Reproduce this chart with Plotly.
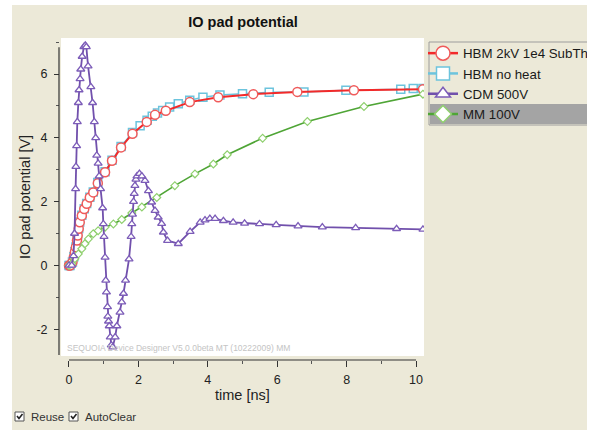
import plotly.graph_objects as go

# ---------------- data ----------------
hbm_t = [0.0, 0.03, 0.1, 0.14, 0.17, 0.2, 0.23, 0.25, 0.28, 0.31, 0.37, 0.44, 0.51, 0.6, 0.7,
         0.83, 1.04, 1.24, 1.5, 1.83, 2.24, 2.48, 2.79, 3.48, 4.3, 5.31, 6.58, 8.21, 10.2]
hbm_v = [0.0, 0.0, 0.1, 0.26, 0.42, 0.57, 0.78, 0.94, 1.15, 1.35, 1.56, 1.77, 1.93, 2.13, 2.29,
         2.58, 2.92, 3.28, 3.7, 4.13, 4.5, 4.72, 4.85, 5.12, 5.27, 5.37, 5.44, 5.49, 5.52]

noheat_t = [0.0, 0.03, 0.1, 0.14, 0.17, 0.2, 0.23, 0.25, 0.28, 0.31, 0.37, 0.44, 0.51, 0.6, 0.7,
            0.83, 1.04, 1.24, 1.5, 1.83, 2.05, 2.25, 2.4, 2.55, 2.7, 2.9, 3.15, 3.48, 3.86, 4.35,
            5.0, 5.77, 6.77, 7.98, 9.56, 9.92, 10.2]
noheat_v = [0.0, 0.0, 0.11, 0.27, 0.43, 0.58, 0.79, 0.95, 1.16, 1.36, 1.57, 1.78, 1.94, 2.14, 2.3,
            2.6, 2.94, 3.3, 3.73, 4.17, 4.38, 4.55, 4.68, 4.78, 4.86, 4.97, 5.07, 5.18, 5.27, 5.34,
            5.38, 5.43, 5.44, 5.49, 5.52, 5.55, 5.55]

cdm_t = [0.0, 0.08, 0.13, 0.16, 0.19, 0.2, 0.22, 0.24, 0.27, 0.29, 0.32, 0.34, 0.38, 0.43, 0.47,
         0.5, 0.55, 0.63, 0.68, 0.73, 0.77, 0.8, 0.84, 0.87, 0.91, 0.97, 0.99, 1.01, 1.04, 1.06,
         1.08, 1.11, 1.12, 1.14, 1.16, 1.19, 1.22, 1.26, 1.33, 1.38, 1.47, 1.52, 1.57, 1.63, 1.73,
         1.79, 1.81, 1.83, 1.86, 1.88, 1.9, 1.93, 1.96, 2.03, 2.1, 2.19, 2.29, 2.38, 2.48, 2.57,
         2.67, 2.72, 2.84, 3.15, 3.49, 3.78, 3.92, 4.06, 4.21, 4.45, 4.73, 5.06, 5.49, 5.97, 6.6,
         7.3, 8.26, 9.44, 10.2]
cdm_v = [0.0, 0.0, 0.3, 1.0, 2.4, 3.1, 3.75, 4.5, 5.1, 5.5, 5.85, 6.15, 6.55, 6.85, 6.9,
         6.85, 6.25, 5.6, 5.1, 4.5, 4.0, 3.45, 3.2, 2.8, 2.4, 1.8, 1.3, 0.9, 0.25, -0.47,
         -0.84, -1.3, -1.6, -1.75, -1.9, -2.25, -2.5, -2.56, -2.25, -1.9, -1.47, -1.15, -0.88, -0.47, 0.2,
         0.9, 1.3, 1.6, 2.0, 2.25, 2.5, 2.7, 2.8, 2.88, 2.8, 2.66, 2.34, 1.98, 1.72, 1.51,
         1.31, 1.04, 0.78, 0.68, 1.06, 1.35, 1.42, 1.47, 1.47, 1.4, 1.35, 1.32, 1.3, 1.27, 1.23,
         1.2, 1.18, 1.15, 1.13]

mm_t = [0.0, 0.08, 0.17, 0.27, 0.37, 0.46, 0.56, 0.7, 0.84, 1.04, 1.28, 1.52, 1.81, 2.1, 2.53,
        3.05, 3.63, 4.16, 4.56, 5.58, 6.87, 8.5, 10.2]
mm_v = [0.0, 0.05, 0.21, 0.36, 0.52, 0.68, 0.83, 0.99, 1.09, 1.2, 1.3, 1.44, 1.64, 1.83, 2.13,
        2.5, 2.87, 3.18, 3.47, 3.99, 4.51, 4.98, 5.37]

series_names = ["HBM 2kV 1e4 SubTh", "HBM no heat", "CDM 500V", "MM 100V"]
x_ticks = [0, 2, 4, 6, 8, 10]
y_ticks = [-2, 0, 2, 4, 6]

# ---------------- layout helpers ----------------
W, H = 587, 430
ML, MR, MT, MB = 59, 163, 38, 70
PW, PH = W - ML - MR, H - MT - MB


def px2x(px):
    return (px - ML) / PW


def py2y(py):
    return (H - MB - py) / PH


BEIGE = "#ECE9D8"
FONT = "Liberation Sans, Arial, sans-serif"

styles = [
    dict(line=dict(color="#F22A2A", width=2),
         marker=dict(symbol="circle", size=9, color="white", line=dict(color="#F05A5A", width=1.5))),
    dict(line=dict(color="#6CC4DD", width=1.5),
         marker=dict(symbol="square", size=8, color="white", line=dict(color="#6CC4DD", width=1.5))),
    dict(line=dict(color="#7150AC", width=1.8),
         marker=dict(symbol="triangle-up", size=7, color="white", line=dict(color="#7C5CB8", width=1.3))),
    dict(line=dict(color="#4FA536", width=1.6),
         marker=dict(symbol="diamond", size=6, color="white", line=dict(color="#8FD06E", width=1.2))),
]
legend_sizes = [14, 13, 13, 13]
series = [(hbm_t, hbm_v), (noheat_t, noheat_v), (cdm_t, cdm_v), (mm_t, mm_v)]
draw_order = [1, 0, 3, 2]  # cyan below red, green below purple

fig = go.Figure()

for i in draw_order:
    tx, vy = series[i]
    st = styles[i]
    fig.add_trace(go.Scatter(x=tx, y=vy, name=series_names[i], mode="lines+markers", showlegend=False,
                             line=st["line"], marker=st["marker"]))

# legend-only entries (bigger symbols, like the reference legend)
for name, st, sz in zip(series_names, styles, legend_sizes):
    mk = dict(st["marker"])
    mk["size"] = sz
    mk["color"] = "white"
    mk["line"] = dict(color=st["marker"]["line"]["color"], width=1.5)
    fig.add_trace(go.Scatter(x=[None], y=[None], name=name, mode="lines+markers",
                             line=dict(color=st["line"]["color"], width=2.5), marker=mk))

shapes = [
    dict(type="rect", xref="paper", yref="paper", x0=px2x(61), x1=1, y0=py2y(356), y1=1,
         fillcolor="white", line=dict(width=0), layer="below"),
    dict(type="line", xref="x", yref="paper", x0=0, x1=10, y0=0, y1=0,
         line=dict(color="#333333", width=1.2), layer="above"),
    dict(type="line", xref="paper", yref="y", x0=0, x1=0, y0=-2.81, y1=6.84,
         line=dict(color="#333333", width=1.2), layer="above"),
    dict(type="rect", xref="paper", yref="paper", x0=px2x(0), x1=px2x(12), y0=py2y(430), y1=py2y(0),
         fillcolor="white", line=dict(width=0), layer="above"),
    dict(type="rect", xref="paper", yref="paper", x0=px2x(0), x1=px2x(W), y0=py2y(5), y1=py2y(0),
         fillcolor="white", line=dict(width=0), layer="above"),
    dict(type="rect", xref="paper", yref="paper", x0=px2x(430), x1=px2x(W + 5), y0=py2y(124), y1=py2y(104),
         fillcolor="#A4A4A4", line=dict(width=0), layer="above"),
    dict(type="rect", xref="paper", yref="paper", x0=px2x(429), x1=px2x(W + 5), y0=py2y(125), y1=py2y(42),
         fillcolor="rgba(0,0,0,0)", line=dict(color="#9C9C9C", width=1), layer="above"),
    dict(type="rect", xref="paper", yref="paper", x0=px2x(15), x1=px2x(24), y0=py2y(421), y1=py2y(412),
         fillcolor="white", line=dict(color="#555555", width=1), layer="above"),
    dict(type="rect", xref="paper", yref="paper", x0=px2x(69), x1=px2x(78), y0=py2y(421), y1=py2y(412),
         fillcolor="white", line=dict(color="#555555", width=1), layer="above"),
]


def check_path(x0):
    pts = [(x0 + 2, 416), (x0 + 4, 418.5), (x0 + 7.5, 414)]
    return "M {} {} L {} {} L {} {}".format(
        px2x(pts[0][0]), py2y(pts[0][1]), px2x(pts[1][0]), py2y(pts[1][1]),
        px2x(pts[2][0]), py2y(pts[2][1]))


shapes.append(dict(type="path", xref="paper", yref="paper", path=check_path(15),
                   line=dict(color="#222222", width=1.6), layer="above"))
shapes.append(dict(type="path", xref="paper", yref="paper", path=check_path(69),
                   line=dict(color="#222222", width=1.6), layer="above"))

annotations = [
    dict(text="SEQUOIA Device Designer V5.0.0beta MT (10222009) MM", xref="paper", yref="paper",
         x=px2x(65), y=py2y(348), xanchor="left", yanchor="middle", showarrow=False,
         font=dict(family=FONT, size=8.5, color="#C4C4C4")),
    dict(text="Reuse", xref="paper", yref="paper", x=px2x(29), y=py2y(417), xanchor="left",
         yanchor="middle", showarrow=False, font=dict(family=FONT, size=11.5, color="#333333")),
    dict(text="AutoClear", xref="paper", yref="paper", x=px2x(83), y=py2y(417), xanchor="left",
         yanchor="middle", showarrow=False, font=dict(family=FONT, size=11.5, color="#333333")),
    dict(text="time [ns]", xref="paper", yref="paper", x=px2x(242), y=py2y(395), xanchor="center",
         yanchor="middle", showarrow=False, font=dict(family=FONT, size=14.5, color="#222222")),
    dict(text="IO pad potential [V]", xref="paper", yref="paper", x=px2x(25), y=py2y(197),
         xanchor="center", yanchor="middle", textangle=-90, showarrow=False,
         font=dict(family=FONT, size=14.5, color="#222222")),
]

fig.update_layout(
    width=W, height=H,
    margin=dict(l=ML, r=MR, t=MT, b=MB, autoexpand=False),
    paper_bgcolor=BEIGE, plot_bgcolor=BEIGE,
    font=dict(family=FONT, color="#222222"),
    title=dict(text="<b>IO pad potential</b>", x=243 / W, xref="container",
               y=1 - 22 / H, yref="container", xanchor="center", yanchor="middle",
               font=dict(family=FONT, size=14.5, color="#111111")),
    xaxis=dict(domain=[px2x(61), 1], range=[-0.23, 10.23], anchor="free", position=0,
               showline=False, showgrid=False, zeroline=False,
               tickmode="array", tickvals=x_ticks, ticktext=[str(v) for v in x_ticks],
               ticks="outside", ticklen=6, tickwidth=1.2, tickcolor="#333333",
               minor=dict(ticks="outside", ticklen=3, tickwidth=1, tickcolor="#555555", dtick=1, showgrid=False),
               tickfont=dict(family=FONT, size=12.5, color="#222222"), ticklabelstandoff=2),
    yaxis=dict(domain=[py2y(356), 1], range=[-2.84, 7.13], anchor="free", position=0,
               showline=False, showgrid=False, zeroline=False,
               tickmode="array", tickvals=y_ticks, ticktext=[str(v) for v in y_ticks],
               ticks="outside", ticklen=5, tickwidth=1.2, tickcolor="#333333",
               minor=dict(ticks="outside", ticklen=3, tickwidth=1, tickcolor="#555555", dtick=1, showgrid=False),
               tickfont=dict(family=FONT, size=12.5, color="#222222"), ticklabelstandoff=4),
    legend=dict(x=px2x(423), y=py2y(38), xanchor="left", yanchor="top",
                bgcolor="rgba(0,0,0,0)", borderwidth=0, itemsizing="trace",
                font=dict(family=FONT, size=13.3, color="#1A1A1A"), tracegroupgap=0),
    shapes=shapes,
    annotations=annotations,
    showlegend=True,
)

fig.write_html("out.html")
